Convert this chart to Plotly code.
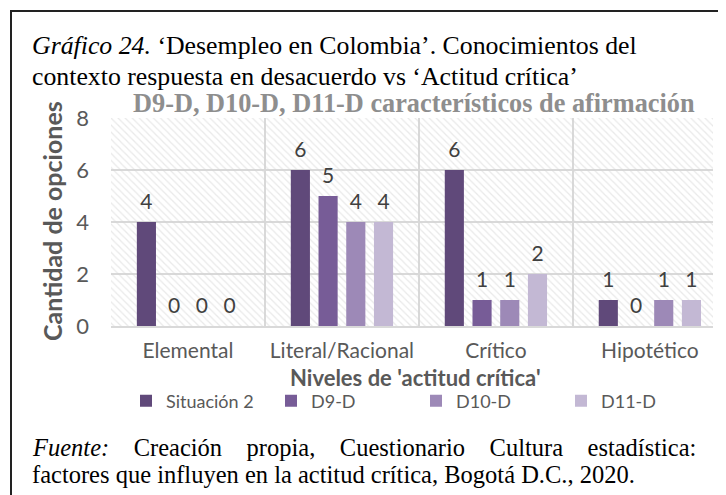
import plotly.graph_objects as go

categories = ["Elemental", "Literal/Racional", "Crítico", "Hipotético"]
series_names = ["Situación 2", "D9-D", "D10-D", "D11-D"]
situacion2 = [4, 6, 6, 1]
d9_d = [0, 5, 1, 0]
d10_d = [0, 4, 1, 1]
d11_d = [0, 4, 2, 1]
series_values = [situacion2, d9_d, d10_d, d11_d]
colors = ["#60497A", "#775C97", "#9D89B7", "#C3B8D4"]
y_ticks = [0, 2, 4, 6, 8]

W, H = 726, 495
OFF = 8  # page body margin in the browser
L, R, T, B = 111, 713, 118, 326  # plot area in reference px

def px(x):
    return (x - L) / (R - L)

def py(y):
    return (B - y) / (B - T)

SANS = "Lato, 'Open Sans', sans-serif"
SERIF = "'Liberation Serif', 'Times New Roman', serif"
NB = "\u00a0"

fig = go.Figure()

# hatched plot-area background (decoration on a hidden base subplot)
fig.add_trace(go.Bar(
    x=[0.5], y=[1], width=[1], xaxis="x", yaxis="y",
    marker=dict(color="rgba(0,0,0,0)", line=dict(width=0),
                pattern=dict(shape="\\", fgcolor="#d4d4d4", size=5, solidity=0.25)),
    showlegend=False, hoverinfo="skip",
))

for name, vals, col in zip(series_names, series_values, colors):
    fig.add_trace(go.Bar(
        x=categories, y=vals, name=name, xaxis="x2", yaxis="y2",
        marker=dict(color=col, line=dict(width=0)),
        texttemplate="<span style='font-size:21px'>%{y}</span><br>" + NB,
        textposition="outside", constraintext="none",
        textfont=dict(family=SANS, size=7, color="#404040"),
        cliponaxis=False, hoverinfo="x+y+name",
    ))

fig.update_layout(
    width=W, height=H,
    margin=dict(l=L - OFF, r=W - (R - OFF), t=T - OFF, b=H - (B - OFF)),
    paper_bgcolor="white", plot_bgcolor="white",
    barmode="group", bargap=0.28, bargroupgap=0.31,
    xaxis=dict(range=[0, 1], visible=False, fixedrange=True),
    yaxis=dict(range=[0, 1], visible=False, fixedrange=True),
    xaxis2=dict(overlaying="x", anchor="y2", type="category",
                categoryorder="array", categoryarray=categories,
                range=[-0.5, 3.41], tickson="boundaries",
                showgrid=True, gridcolor="#d9d9d9", gridwidth=2,
                showline=True, linecolor="#d9d9d9", linewidth=2,
                ticks="", ticklabelstandoff=5,
                tickfont=dict(family=SANS, size=21, color="#595959")),
    yaxis2=dict(overlaying="y", anchor="x2", range=[0, 8], tickvals=y_ticks,
                showgrid=True, gridcolor="#d9d9d9", gridwidth=2,
                zeroline=False, showline=False, ticks="", ticklabelstandoff=21,
                tickfont=dict(family=SANS, size=22, color="#595959")),
    legend=dict(orientation="h", x=px(126), xanchor="left", y=py(401), yanchor="middle",
                font=dict(family=SANS, size=18, color="#595959"),
                entrywidth=100, itemwidth=30, traceorder="normal"),
    showlegend=True,
)

gap = " " + NB * 3
line1 = gap.join(["<i>Fuente:</i>", "Creación", "propia,", "Cuestionario", "Cultura", "estadística:"])

ann = []
ann.append(dict(text="<i>Gráfico 24.</i> ‘Desempleo en Colombia’. Conocimientos del",
                x=px(30), y=py(46), xanchor="left", yanchor="middle",
                font=dict(family=SERIF, size=25.8, color="black")))
ann.append(dict(text="contexto respuesta en desacuerdo vs ‘Actitud crítica’",
                x=px(30), y=py(76), xanchor="left", yanchor="middle",
                font=dict(family=SERIF, size=25.8, color="black")))
ann.append(dict(text="<b>D9-D, D10-D, D11-D característicos de afirmación</b>",
                x=px(414), y=py(103), xanchor="center", yanchor="middle",
                font=dict(family=SERIF, size=26.3, color="#8e8e8e")))
ann.append(dict(text="<b>Cantidad de opciones</b>", textangle=-90,
                x=px(52), y=py(221), xanchor="center", yanchor="middle",
                font=dict(family=SANS, size=25, color="#595959")))
ann.append(dict(text="<b>Niveles de 'actitud crítica'</b>",
                x=px(415), y=py(377), xanchor="center", yanchor="middle",
                font=dict(family=SANS, size=22, color="#595959")))
ann.append(dict(text=line1,
                x=px(30), y=py(447), xanchor="left", yanchor="middle",
                font=dict(family=SERIF, size=24.5, color="black")))
ann.append(dict(text="factores que influyen en la actitud crítica, Bogotá D.C., 2020.",
                x=px(30), y=py(474), xanchor="left", yanchor="middle",
                font=dict(family=SERIF, size=24.5, color="black")))
for a in ann:
    a.update(xref="paper", yref="paper", showarrow=False)
fig.update_layout(annotations=ann)

fig.add_shape(type="rect", xref="paper", yref="paper",
              x0=px(11), x1=px(760), y0=py(11), y1=py(520),
              line=dict(color="#222222", width=2), fillcolor="rgba(0,0,0,0)", layer="above")

fig.write_html("out.html")
